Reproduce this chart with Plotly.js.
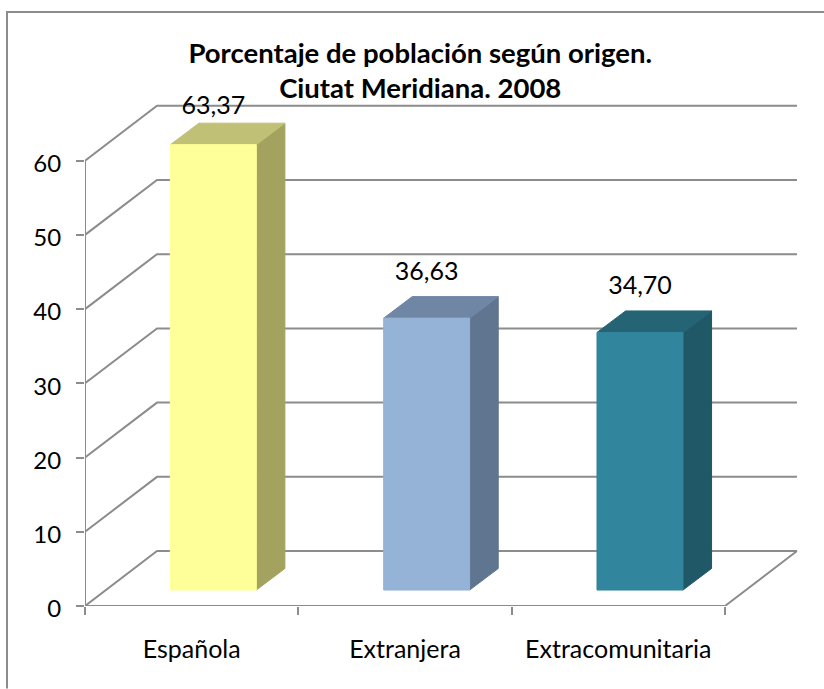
<!DOCTYPE html>
<html><head><meta charset="utf-8">
<script src="https://cdn.plot.ly/plotly-3.0.1.min.js"></script>
<style>html,body{margin:0;padding:0;background:#fff}#c{width:824px;height:689px}</style>
</head><body><div id="c"></div>
<script>
const categories = ['Española','Extranjera','Extracomunitaria'];
const values = [63.37,36.63,34.70];
const valueLabels = ['63,37','36,63','34,70'];
const frontColors = ['#FFFF99','#95B3D7','#31859C'];
const sideColors = ['#A3A35F','#5F7590','#205867'];
const topColors = ['#C0C076','#6F86A5','#256475'];
const yTicks = [0,10,20,30,40,50,60];
const xTicks = [0,1,2,3];
const FONT = 'Lato, sans-serif';

const W=824,H=689,L=85,R=24,T=100,B=82.5;
const xMax=(W-L-R)/213.33, yMax=(H-T-B)/7.43;
const wallDx=0.3375, wallDy=7.4, barDx=0.134, barDy=2.9;
const barStart=0.4, barW=0.403, barBase=2.15, axisMax=60;
const gridColor='#8C8C8C';

const traces=[];
function poly(x,y,fill){traces.push({type:'scatter',mode:'lines',x:x.concat(x[0]),y:y.concat(y[0]),fill:'toself',fillcolor:fill,line:{color:fill,width:1},hoverinfo:'skip',showlegend:false,cliponaxis:false});}

// walls and floor
const gx=[],gy=[];
yTicks.forEach(t=>{gx.push(0,wallDx,3+wallDx,null);gy.push(t,t+wallDy,t+wallDy,null);});
gx.push(0,0,null,0,3,3+wallDx);gy.push(0,axisMax,null,0,0,wallDy);
traces.push({type:'scatter',mode:'lines',x:gx,y:gy,line:{color:gridColor,width:2},hoverinfo:'skip',showlegend:false,cliponaxis:false});

// bars
categories.forEach((c,i)=>{
  const x0=i+barStart,x1=x0+barW,y0=barBase,y1=barBase+Math.min(values[i],axisMax);
  poly([x1,x1+barDx,x1+barDx,x1],[y0,y0+barDy,y1+barDy,y1],sideColors[i]);
  poly([x0,x1,x1+barDx,x0+barDx],[y1,y1,y1+barDy,y1+barDy],topColors[i]);
  poly([x0,x1,x1,x0],[y0,y0,y1,y1],frontColors[i]);
});
// value labels
traces.push({type:'scatter',mode:'text',
  x:categories.map((c,i)=>i+barStart+barW/2),
  y:values.map(v=>Math.min(v+barBase+6,67.1)),
  text:valueLabels,textposition:'middle center',textfont:{family:FONT,size:25,color:'#000'},
  hoverinfo:'skip',showlegend:false,cliponaxis:false});

const layout={
  width:W,height:H,margin:{l:L,r:R,t:T,b:B,pad:0},
  paper_bgcolor:'#fff',plot_bgcolor:'rgba(0,0,0,0)',showlegend:false,
  title:{text:'<b>Porcentaje de población según origen.<br>Ciutat Meridiana. 2008</b>',x:0.51,xanchor:'center',y:0.909,yanchor:'top',font:{family:FONT,size:27.5,color:'#000'}},
  xaxis:{range:[0,xMax],showgrid:false,zeroline:false,showline:false,
    tickmode:'array',tickvals:categories.map((c,i)=>i+0.5),ticktext:categories,ticks:'',ticklabelstandoff:26,
    tickfont:{family:FONT,size:25,color:'#000'},
    minor:{tickmode:'array',tickvals:xTicks,ticks:'outside',ticklen:8,tickwidth:2,tickcolor:gridColor,showgrid:false}},
  yaxis:{range:[0,yMax],showgrid:false,zeroline:false,showline:false,
    tickmode:'array',tickvals:yTicks,ticktext:yTicks.map(String),ticks:'outside',ticklen:8,tickwidth:2,tickcolor:gridColor,ticklabelstandoff:10,ticklabelshift:3,
    tickfont:{family:FONT,size:24,color:'#000'}},
  shapes:[{type:'path',xref:'paper',yref:'paper',
    path:`M ${(7-L)/(W-L-R)} ${1-(H-T)/(H-T-B)} L ${(7-L)/(W-L-R)} ${1-(12-T)/(H-T-B)} L ${(W-L)/(W-L-R)} ${1-(12-T)/(H-T-B)}`,
    line:{color:'#8C8C8C',width:2},layer:'below'}]
};
Plotly.newPlot('c',traces,layout,{displayModeBar:false,staticPlot:true});
</script></body></html>
